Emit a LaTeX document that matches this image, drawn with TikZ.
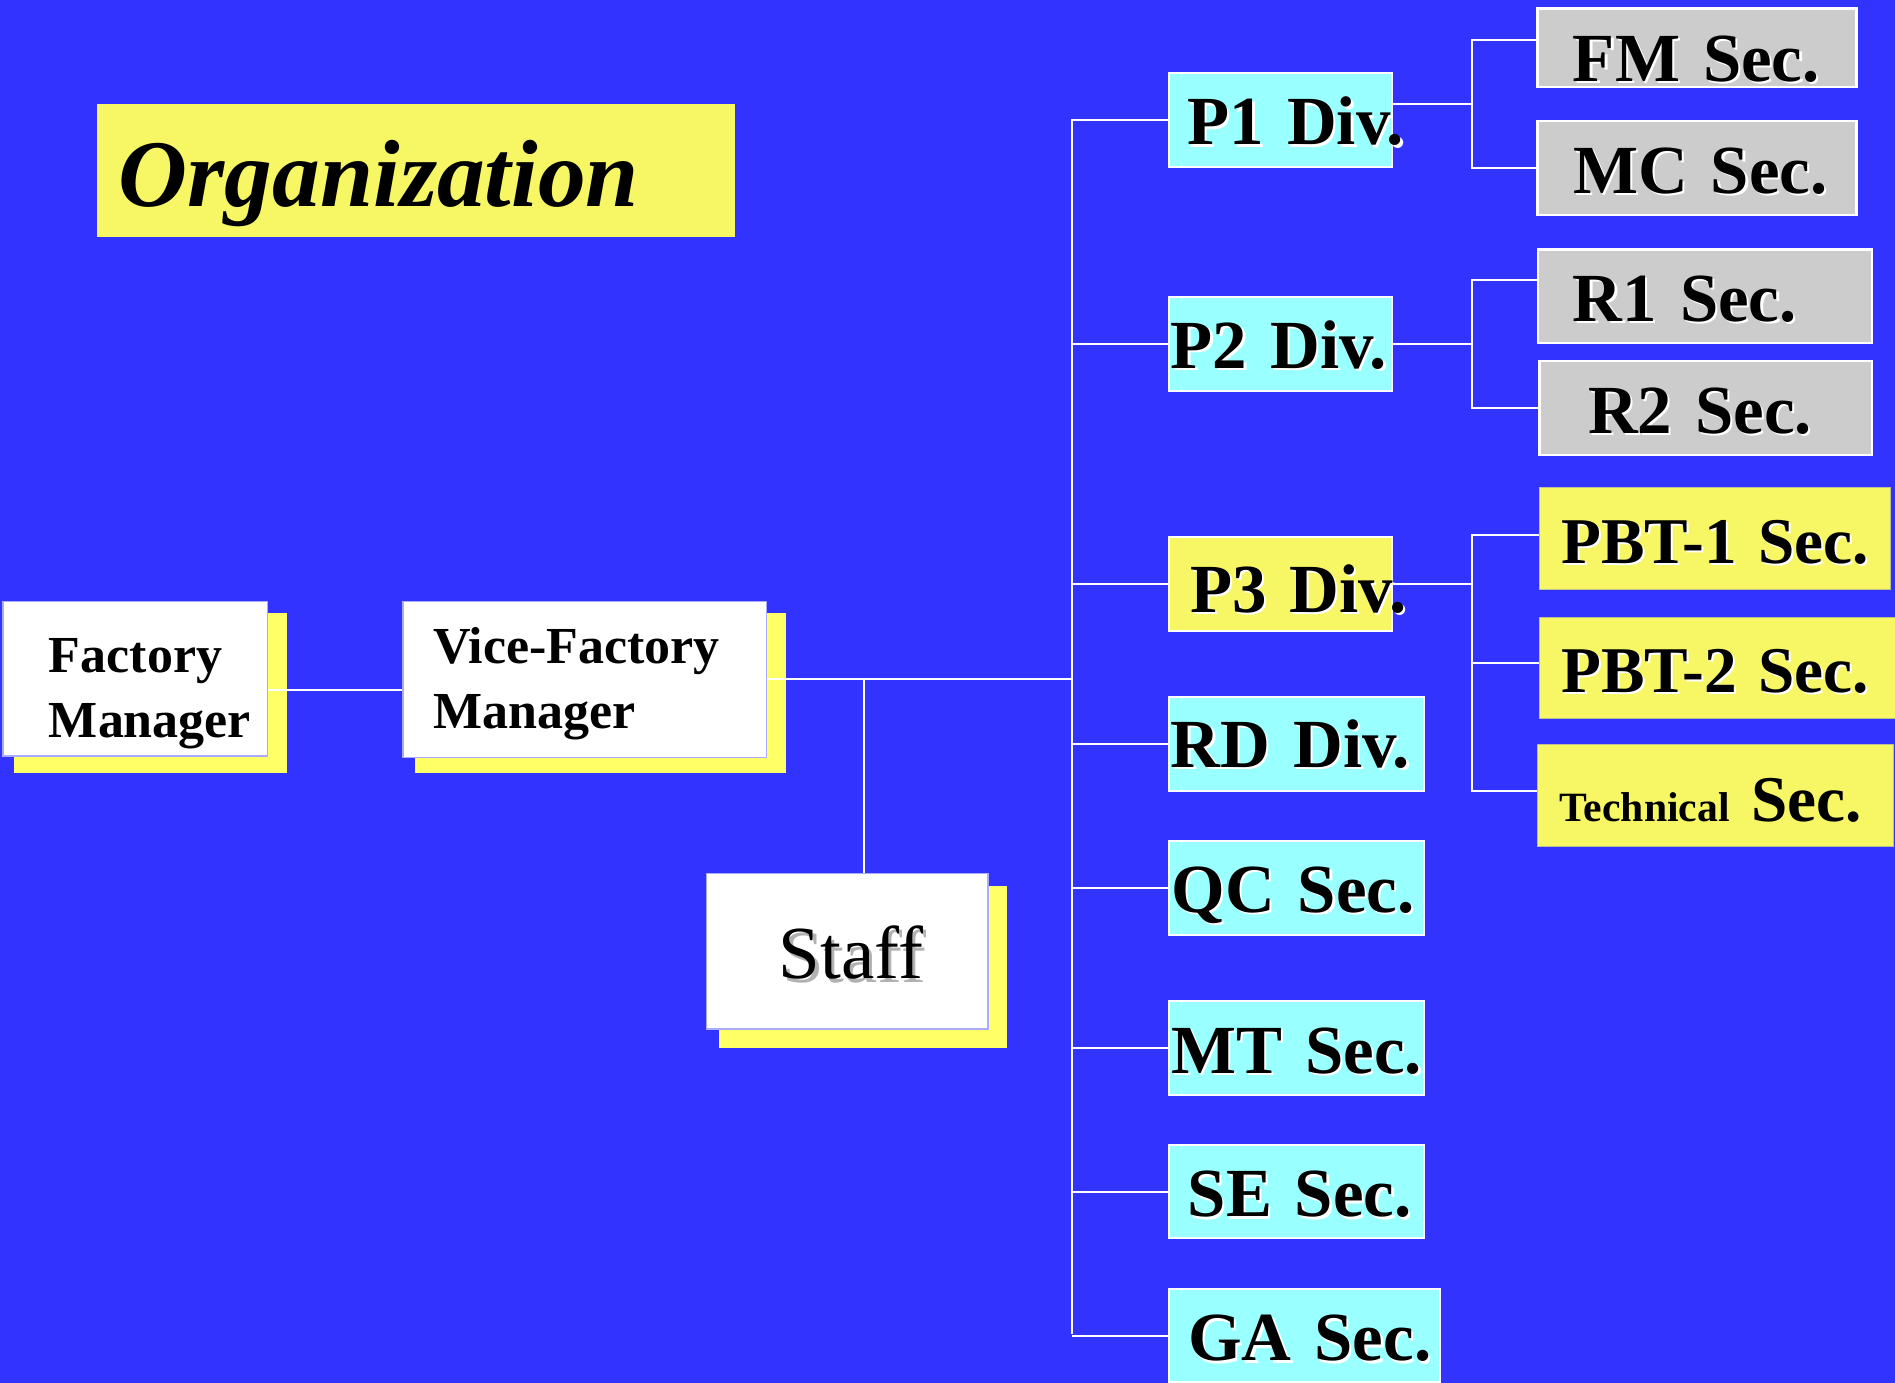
\documentclass[tikz,border=0pt]{standalone}
\usepackage{fontspec}
\setmainfont{Liberation Serif}
\setlength\parindent{0pt}
\definecolor{bgblue}{RGB}{51,51,255}
\definecolor{cyanbox}{RGB}{153,255,255}
\definecolor{ylwbox}{RGB}{247,247,102}
\definecolor{ylwshadow}{RGB}{255,255,102}
\definecolor{greybox}{RGB}{204,204,204}
\definecolor{lavender}{RGB}{170,170,255}
\definecolor{ylwedge}{RGB}{190,190,150}
\newcommand\wsh[1]{\leavevmode\rlap{\kern0.9pt\raisebox{-0.9pt}{\color{white}#1}}#1}
\newcommand\gsh[1]{\leavevmode\rlap{\kern1.3pt\raisebox{-1.3pt}{\color{black!30}#1}}#1}
% name, style, x1, y1, x2, y2, text x, baseline y, text
\newcommand\orgbox[9]{%
  \pgfmathsetmacro\bxw{(#5-#3)*0.5}%
  \pgfmathsetmacro\bxh{(#8-#4)*0.5}%
  \pgfmathsetmacro\bxd{(#6-#8)*0.5}%
  \pgfmathsetmacro\bxoff{(#7-#3)*0.5}%
  \node[#2, anchor=north west, inner sep=0pt, minimum width=\bxw pt,
        text width=\bxw pt, text height=\bxh pt, text depth=\bxd pt, align=left]
        (#1) at (#3,#4) {\hspace*{\bxoff pt}\mbox{#9}};}
\begin{document}
\begin{tikzpicture}[x=0.5pt,y=-0.5pt,
  conn/.style={draw=white, line width=0.8pt},
  titlebox/.style={fill=ylwbox, font={\bfseries\itshape\fontsize{39.5pt}{44pt}\selectfont}},
  mgrbox/.style={fill=white, draw=lavender, line width=0.5pt, font={\bfseries\fontsize{21.5pt}{26.7pt}\selectfont}},
  staffbox/.style={fill=white, draw=lavender, line width=0.5pt, font={\fontsize{31pt}{34pt}\selectfont}},
  divbox/.style={fill=cyanbox, draw=white, line width=0.8pt, font={\bfseries\fontsize{28.5pt}{30pt}\selectfont}},
  ydivbox/.style={fill=ylwbox, draw=white, line width=0.8pt, font={\bfseries\fontsize{28.5pt}{30pt}\selectfont}},
  greysec/.style={fill=greybox, draw=white, line width=1pt, font={\bfseries\fontsize{28.5pt}{30pt}\selectfont}},
  ysec/.style={fill=ylwbox, draw=ylwedge, line width=0.4pt, font={\bfseries\fontsize{27pt}{29pt}\selectfont}},
  shadowfill/.style={fill=ylwshadow}
]
% background and page size
\fill[bgblue] (0,0) rectangle (1568,1144);
\useasboundingbox (0,0) rectangle (1568,1144);

% box shadows
\fill[shadowfill] (11.8,507.5) rectangle (237.6,640);
\fill[shadowfill] (343,507.5) rectangle (650,640);
\fill[shadowfill] (595.2,732.8) rectangle (833,867.4);

% title
\orgbox{title}{titlebox}{80}{86}{608}{196}{98}{170.5}{Organization}

% managers and staff
\orgbox{fm}{mgrbox}{2}{497}{221}{625}{40}{609.5}{\begin{tabular}[b]{@{}l@{}}Factory\\Manager\end{tabular}}
\orgbox{vice}{mgrbox}{333}{497}{634}{626}{358}{602}{\begin{tabular}[b]{@{}l@{}}Vice-Factory\\Manager\end{tabular}}
\orgbox{staff}{staffbox}{584}{722}{817}{851}{644}{809.5}{\gsh{Staff}}

% divisions and sections
\orgbox{p1}{divbox}{966.5}{59.3}{1151}{137.3}{982}{119.1}{\wsh{P1 Div.}}
\orgbox{p2}{divbox}{966.5}{244.6}{1151}{322.7}{968}{304.2}{\wsh{P2 Div.}}
\orgbox{p3}{ydivbox}{966.5}{443.5}{1151}{521.3}{984}{506}{\wsh{P3 Div.}}
\orgbox{rd}{divbox}{966.5}{576}{1177.6}{653.7}{968}{634.4}{\wsh{RD Div.}}
\orgbox{qc}{divbox}{966.5}{695}{1177.7}{772.8}{968.6}{754.3}{\wsh{QC Sec.}}
\orgbox{mt}{divbox}{966.5}{827.4}{1177.7}{905.2}{968.6}{887.5}{\wsh{MT Sec.}}
\orgbox{se}{divbox}{966.5}{946.5}{1177.7}{1023.8}{982}{1006.1}{\wsh{SE Sec.}}
\orgbox{ga}{divbox}{966.5}{1066}{1190.9}{1143}{982.4}{1125.3}{\wsh{GA Sec.}}

\orgbox{fmsec}{greysec}{1271}{6}{1535}{71.2}{1300.5}{66.2}{\wsh{FM Sec.}}
\orgbox{mcsec}{greysec}{1271}{99.3}{1535}{177}{1300.7}{159.1}{\wsh{MC Sec.}}
\orgbox{r1sec}{greysec}{1271.7}{205.5}{1548}{282.7}{1300.5}{264.8}{\wsh{R1 Sec.}}
\orgbox{r2sec}{greysec}{1272.8}{297.9}{1548}{375.6}{1313}{357.7}{\wsh{R2 Sec.}}
\orgbox{pbt1}{ysec}{1273}{403.2}{1563.5}{487.6}{1291.5}{465.6}{\wsh{PBT-1 Sec.}}
\orgbox{pbt2}{ysec}{1273}{510.2}{1570}{594.3}{1291.5}{572.8}{\wsh{PBT-2 Sec.}}
\orgbox{tech}{ysec}{1272}{616}{1566.7}{700}{1290.3}{679}{{\fontsize{17.25pt}{19pt}\selectfont Technical}\hspace{9pt}Sec.}

% junction coordinates
\coordinate (trunktop) at (887,98.7);
\coordinate (trunkbot) at (887,1104);
\coordinate (sj) at (715,561);
\coordinate (k1) at (1218,85);
\coordinate (k2) at (1218,283.2);
\coordinate (k3) at (1218,482.1);

% connectors
\draw[conn] ([yshift=-4.75pt]fm.east) -- ([yshift=-4.75pt]fm.east -| vice.west);
\draw[conn] (vice.east) -- (vice.east -| trunktop);
\draw[conn] (sj) -- (sj |- staff.north);
\draw[conn] (trunktop) -- (trunkbot);
\foreach \n in {p1,p2,p3,rd,qc,mt,se,ga}{
  \draw[conn] (\n.west) -- (\n.west -| trunktop);
}
\draw[conn] ([yshift=6.65pt]p1.east) -- ([yshift=6.65pt]p1.east -| k1);
\draw[conn] ([yshift=3.15pt]fmsec.west) -| (k1) |- (mcsec.west);
\draw[conn] (p2.east) -- (p2.east -| k2);
\draw[conn] ([yshift=6.6pt]r1sec.west) -| (k2) |- (r2sec.west);
\draw[conn] (p3.east) -- (p3.east -| k3);
\draw[conn] ([yshift=1.7pt]pbt1.west) -| (k3) |- ([yshift=1.9pt]tech.west);
\draw[conn] ([yshift=2pt]pbt2.west) -- ([yshift=2pt]pbt2.west -| k3);
\end{tikzpicture}
\end{document}
